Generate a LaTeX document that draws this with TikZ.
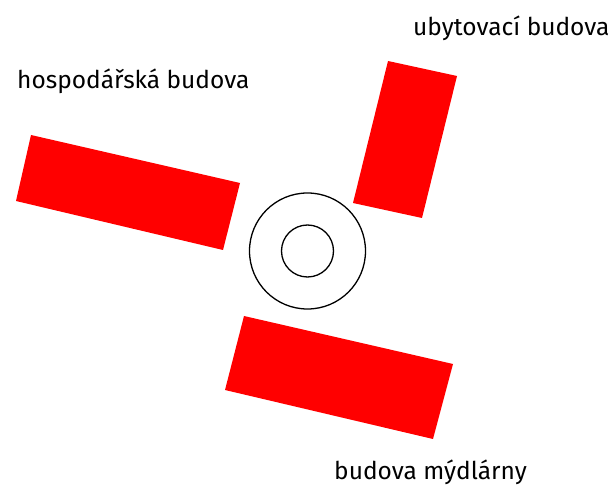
\documentclass[tikz,border=0pt]{standalone}
\usepackage{fontspec}
\setmainfont{Fira Sans}
\usepackage{xcolor}
\definecolor{cBuild}{HTML}{FF0000}
\usepackage{tikz}
\tikzset{
  building/.style={fill=cBuild,draw=none},
  ring/.style={draw=black,line width=1.3pt},
  label-text/.style={anchor=base west,inner sep=0pt,font=\fontsize{24.5}{28}\selectfont},
}

\begin{document}
\begin{tikzpicture}[x=1pt,y=-1pt]
  \useasboundingbox (0,0) rectangle (614,489);
  % budovy
  \fill[building] (31,135) -- (240,183) -- (223,250) -- (16,201) -- cycle;
  \fill[building] (388,61) -- (457,76) -- (422,218) -- (353,203) -- cycle;
  \fill[building] (244,316) -- (453,364) -- (433,439) -- (225,390) -- cycle;
  % kruhy
  \coordinate (mid) at (307.5,251);
  \draw[ring] (mid) circle[radius=58];
  \draw[ring] (mid) circle[radius=26];
  % popisky
  \node[label-text] (ubyt) at (413,36) {ubytovací budova};
  \node[label-text] (hosp) at (17,89) {hospodářská budova};
  \node[label-text] (mydl) at (334,479) {budova mýdlárny};
\end{tikzpicture}
\end{document}
